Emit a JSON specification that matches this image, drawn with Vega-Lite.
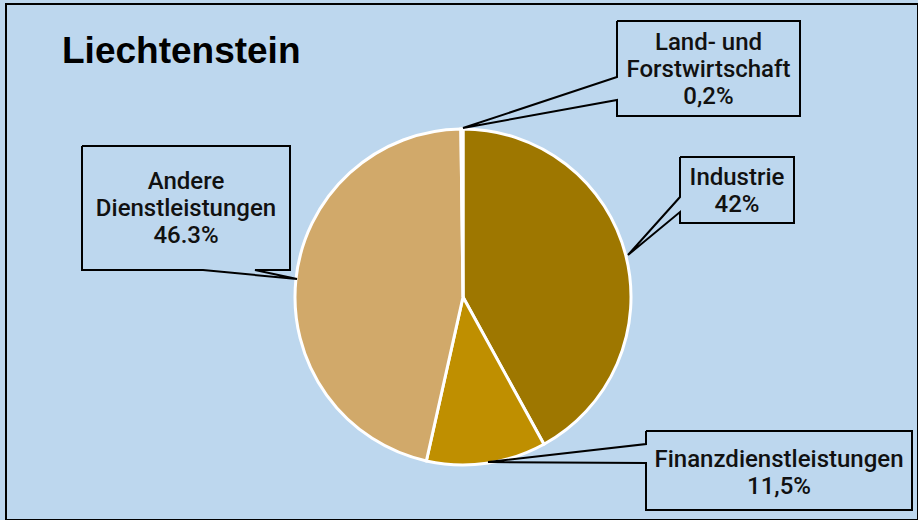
{
  "$schema": "https://vega.github.io/schema/vega-lite/v6.json",
  "width": 918,
  "height": 520,
  "autosize": {"type": "fit", "contains": "padding"},
  "padding": {"left": 6, "top": 4, "right": 0, "bottom": 0},
  "background": "#BDD7EE",
  "config": {"view": {"stroke": "#000000", "strokeWidth": 2}, "axis": {"disable": true}},
  "datasets": {
    "sectors": [
      {"sector": "Industrie", "share": 42.0, "order": 1},
      {"sector": "Finanzdienstleistungen", "share": 11.5, "order": 2},
      {"sector": "Andere Dienstleistungen", "share": 46.3, "order": 3},
      {"sector": "Land- und Forstwirtschaft", "share": 0.2, "order": 4}
    ],
    "callouts": [
      {"callout": "Land", "i": 1, "x": 617, "y": 21},
      {"callout": "Land", "i": 2, "x": 800, "y": 21},
      {"callout": "Land", "i": 3, "x": 800, "y": 116},
      {"callout": "Land", "i": 4, "x": 617, "y": 116},
      {"callout": "Land", "i": 5, "x": 617, "y": 100},
      {"callout": "Land", "i": 6, "x": 463, "y": 128},
      {"callout": "Land", "i": 7, "x": 617, "y": 77},
      {"callout": "Land", "i": 8, "x": 617, "y": 21},
      {"callout": "Industrie", "i": 1, "x": 680, "y": 157},
      {"callout": "Industrie", "i": 2, "x": 794, "y": 157},
      {"callout": "Industrie", "i": 3, "x": 794, "y": 223},
      {"callout": "Industrie", "i": 4, "x": 680, "y": 223},
      {"callout": "Industrie", "i": 5, "x": 680, "y": 212},
      {"callout": "Industrie", "i": 6, "x": 628, "y": 255},
      {"callout": "Industrie", "i": 7, "x": 680, "y": 197},
      {"callout": "Industrie", "i": 8, "x": 680, "y": 157},
      {"callout": "Andere", "i": 1, "x": 82, "y": 146},
      {"callout": "Andere", "i": 2, "x": 290, "y": 146},
      {"callout": "Andere", "i": 3, "x": 290, "y": 270},
      {"callout": "Andere", "i": 4, "x": 255, "y": 270},
      {"callout": "Andere", "i": 5, "x": 297, "y": 279},
      {"callout": "Andere", "i": 6, "x": 203, "y": 270},
      {"callout": "Andere", "i": 7, "x": 82, "y": 270},
      {"callout": "Andere", "i": 8, "x": 82, "y": 146},
      {"callout": "Finanz", "i": 1, "x": 646, "y": 431},
      {"callout": "Finanz", "i": 2, "x": 912, "y": 431},
      {"callout": "Finanz", "i": 3, "x": 912, "y": 510},
      {"callout": "Finanz", "i": 4, "x": 646, "y": 510},
      {"callout": "Finanz", "i": 5, "x": 646, "y": 463},
      {"callout": "Finanz", "i": 6, "x": 488, "y": 462},
      {"callout": "Finanz", "i": 7, "x": 646, "y": 444},
      {"callout": "Finanz", "i": 8, "x": 646, "y": 431}
    ],
    "labels": [
      {"label": "Land- und\nForstwirtschaft\n0,2%", "x": 708.5, "y": 43},
      {"label": "Industrie\n42%", "x": 737, "y": 178},
      {"label": "Andere\nDienstleistungen\n46.3%", "x": 186, "y": 182},
      {"label": "Finanzdienstleistungen\n11,5%", "x": 779, "y": 460}
    ],
    "title": [{"text": "Liechtenstein", "x": 62, "y": 63}]
  },
  "layer": [
    {
      "data": {"name": "sectors"},
      "mark": {"type": "arc", "outerRadius": 168, "stroke": "#FFFFFF", "strokeWidth": 3},
      "encoding": {
        "x": {"datum": 463, "type": "quantitative", "scale": {"domain": [6, 918], "nice": false, "zero": false}, "axis": null},
        "y": {"datum": 297, "type": "quantitative", "scale": {"domain": [4, 520], "nice": false, "zero": false, "reverse": true}, "axis": null},
        "theta": {"field": "share", "type": "quantitative", "stack": true},
        "order": {"field": "order", "type": "quantitative"},
        "color": {
          "field": "sector",
          "type": "nominal",
          "scale": {
            "domain": ["Industrie", "Finanzdienstleistungen", "Andere Dienstleistungen", "Land- und Forstwirtschaft"],
            "range": ["#9E7700", "#BF8F00", "#D1A96A", "#E3C48F"]
          },
          "legend": null
        }
      }
    },
    {
      "data": {"name": "callouts"},
      "mark": {"type": "line", "stroke": "#000000", "strokeWidth": 2, "strokeJoin": "miter"},
      "encoding": {
        "x": {"field": "x", "type": "quantitative", "axis": null},
        "y": {"field": "y", "type": "quantitative", "axis": null},
        "detail": {"field": "callout", "type": "nominal"},
        "order": {"field": "i", "type": "quantitative"}
      }
    },
    {
      "data": {"name": "labels"},
      "mark": {"type": "text", "font": "Roboto", "fontSize": 24, "fontWeight": 500, "lineBreak": "\n", "lineHeight": 27, "align": "center", "baseline": "middle", "color": "#111111"},
      "encoding": {
        "x": {"field": "x", "type": "quantitative", "axis": null},
        "y": {"field": "y", "type": "quantitative", "axis": null},
        "text": {"field": "label", "type": "nominal"}
      }
    },
    {
      "data": {"name": "title"},
      "mark": {"type": "text", "font": "Liberation Sans", "fontSize": 37, "fontWeight": "bold", "align": "left", "baseline": "alphabetic", "color": "#000000"},
      "encoding": {
        "x": {"field": "x", "type": "quantitative", "axis": null},
        "y": {"field": "y", "type": "quantitative", "axis": null},
        "text": {"field": "text", "type": "nominal"}
      }
    }
  ]
}
